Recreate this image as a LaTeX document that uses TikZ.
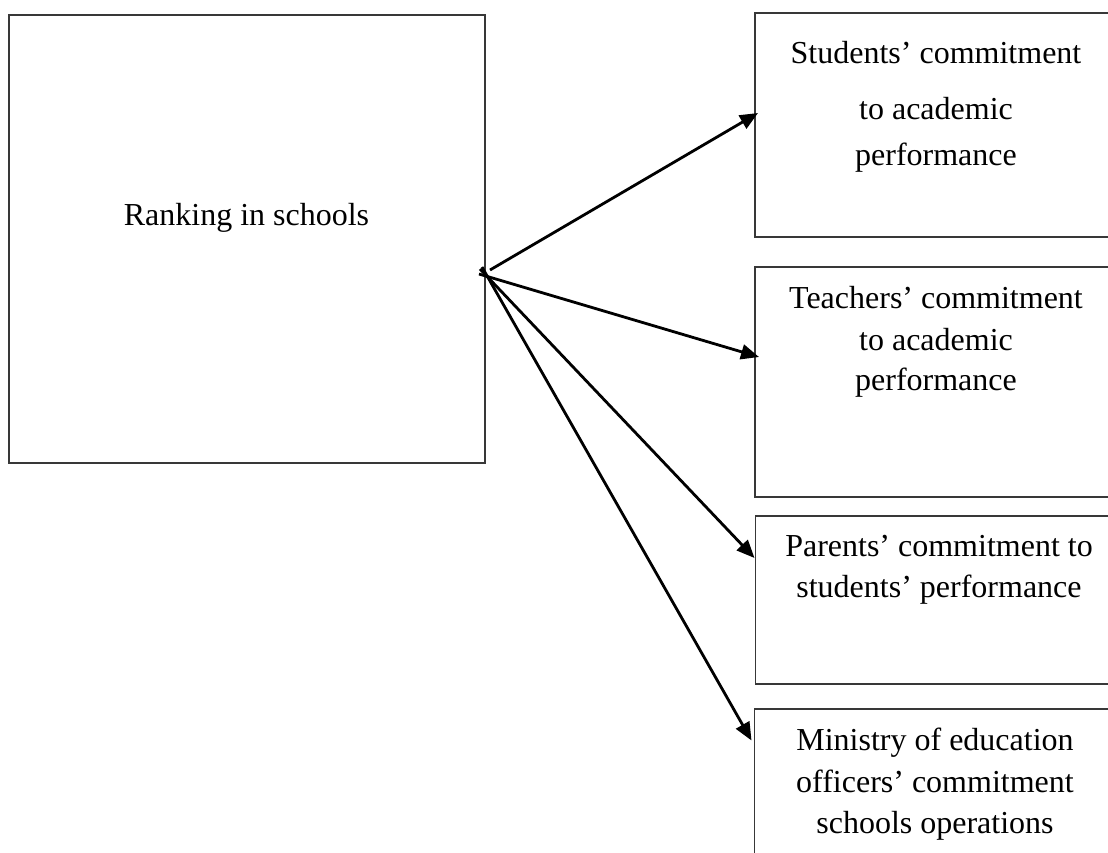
\documentclass[tikz,border=0pt]{standalone}
\usepackage{fontspec}
\setmainfont{Liberation Serif}
\usetikzlibrary{arrows.meta}
\tikzset{
  box/.style={draw=black!78, line width=0.75pt, rectangle, inner sep=0pt, outer sep=0pt},
  txt/.style={anchor=base, inner sep=0pt, font=\fontsize{16}{19}\selectfont},
  conn/.style={line width=1.4pt, -{Triangle[length=9pt,width=7.5pt]}}
}
\begin{document}
\begin{tikzpicture}[x=0.5pt,y=-0.5pt]
\useasboundingbox (0,0) rectangle (1108,852);
\clip (0,0) rectangle (1108,852);
% boxes
\node[box, minimum width=238pt, minimum height=224pt] (a) at (247,239) {};
\node[box, minimum width=182.5pt, minimum height=112pt] (b1) at (937.5,125) {};
\node[box, minimum width=182.5pt, minimum height=115pt] (b2) at (937.5,382) {};
\node[box, minimum width=182.5pt, minimum height=84pt] (b3) at (938,600) {};
\node[box, minimum width=182.5pt, minimum height=95.5pt] (b4) at (937,804.5) {};
% texts
\node[txt] (ta) at (246.5,225) {Ranking in schools};
\node[txt] (t11) at (936,63) {Students’ commitment};
\node[txt] (t12) at (936,119) {to academic};
\node[txt] (t13) at (936,165) {performance};
\node[txt] (t21) at (936,308) {Teachers’ commitment};
\node[txt] (t22) at (936,350) {to academic};
\node[txt] (t23) at (936,390) {performance};
\node[txt] (t31) at (939,556) {Parents’ commitment to};
\node[txt] (t32) at (939,597) {students’ performance};
\node[txt] (t41) at (935,750) {Ministry of education};
\node[txt] (t42) at (935,792) {officers’ commitment};
\node[txt] (t43) at (935,833) {schools operations};
% connectors
\draw[conn] ([xshift=2.5pt,yshift=-15.5pt]a.east) -- ([xshift=1.5pt,yshift=6pt]b1.west);
\draw[conn] ([xshift=-3pt,yshift=-17.5pt]a.east) -- ([xshift=2pt,yshift=12.5pt]b2.west);
\draw[conn] ([xshift=-2.5pt,yshift=-15pt]a.east) -- ([xshift=-0.5pt,yshift=21pt]b3.west);
\draw[conn] ([xshift=-1.5pt,yshift=-14pt]a.east) -- ([xshift=-1.5pt,yshift=32pt]b4.west);
\end{tikzpicture}
\end{document}
